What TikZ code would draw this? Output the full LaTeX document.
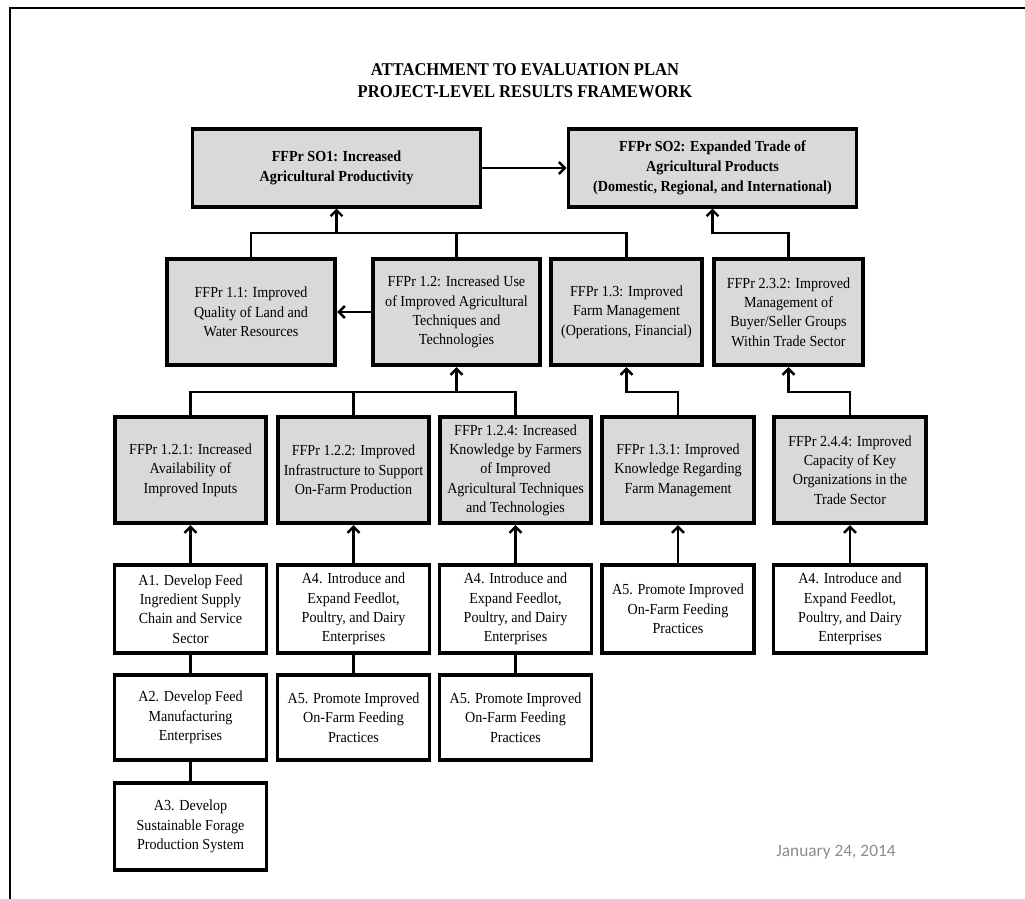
\documentclass[tikz,border=0pt]{standalone}
\usepackage{fontspec}
\setmainfont{Liberation Serif}[FakeStretch=0.92]
\newfontfamily\datefont{Carlito}
\usetikzlibrary{arrows.meta}
\definecolor{boxgray}{HTML}{D9D9D9}
\definecolor{dategray}{HTML}{8C8C8C}
\begin{document}
\begin{tikzpicture}[x=0.75pt, y=-0.75pt,
    >={Straight Barb[length=4.5pt,width=9pt]},
    link/.style={line width=1.8pt},
    goalbox/.style={draw, line width=2.8pt, fill=boxgray, align=center, inner sep=0pt,
        font=\fontsize{11.5}{15}\selectfont\bfseries, minimum width=216pt, minimum height=58pt},
    resultbox/.style={draw, line width=2.8pt, fill=boxgray, align=center, inner sep=0pt,
        font=\fontsize{11.5}{14.5}\selectfont, minimum height=80pt},
    actbox/.style={draw, line width=2.8pt, fill=white, align=center, inner sep=0pt,
        font=\fontsize{11.5}{14.5}\selectfont, minimum width=114pt}]
    \useasboundingbox (0, 0) rectangle (1025, 899);
    % page frame
    \draw[line width=1.5pt] (1025, 8) -- (10, 8) -- (10, 899);
    % title
    \node[font=\fontsize{13.5}{16.5}\selectfont\bfseries, align=center] (title) at (525, 81)
        {ATTACHMENT TO EVALUATION PLAN\\PROJECT-LEVEL RESULTS FRAMEWORK};
    % strategic objectives
    \node[goalbox] (so1) at (336.5, 168) {FFPr SO1: Increased\\Agricultural Productivity};
    \node[goalbox] (so2) at (712.5, 168) {FFPr SO2: Expanded Trade of\\Agricultural Products\\(Domestic, Regional, and International)};
    % intermediate results
    \node[resultbox, minimum width=126.5pt] (r11) at (251, 312) {FFPr 1.1: Improved\\Quality of Land and\\Water Resources};
    \node[resultbox, minimum width=125.75pt] (r12) at (456.5, 312) {FFPr 1.2: Increased Use\\of Improved Agricultural\\Techniques and\\Technologies};
    \node[resultbox, minimum width=113.75pt] (r13) at (626.5, 312) {FFPr 1.3: Improved\\Farm Management\\(Operations, Financial)};
    \node[resultbox, minimum width=112.25pt] (r232) at (788.5, 312) {FFPr 2.3.2: Improved\\Management of\\Buyer/Seller Groups\\Within Trade Sector};
    % sub-intermediate results
    \node[resultbox, minimum width=113.75pt] (r121) at (190.5, 470) {FFPr 1.2.1: Increased\\Availability of\\Improved Inputs};
    \node[resultbox, minimum width=113.75pt] (r122) at (353.5, 470) {FFPr 1.2.2: Improved\\Infrastructure to Support\\On-Farm Production};
    \node[resultbox, minimum width=113.75pt] (r124) at (515.5, 470) {FFPr 1.2.4: Increased\\Knowledge by Farmers\\of Improved\\Agricultural Techniques\\and Technologies};
    \node[resultbox, minimum width=113.75pt] (r131) at (678, 470) {FFPr 1.3.1: Improved\\Knowledge Regarding\\Farm Management};
    \node[resultbox, minimum width=114.5pt] (r244) at (850, 470) {FFPr 2.4.4: Improved\\Capacity of Key\\Organizations in the\\Trade Sector};
    % activities
    \node[actbox, minimum height=66.5pt] (a1) at (190.5, 609) {A1. Develop Feed\\Ingredient Supply\\Chain and Service\\Sector};
    \node[actbox, minimum height=66.5pt] (a4b) at (353.5, 609) {A4. Introduce and\\Expand Feedlot,\\Poultry, and Dairy\\Enterprises};
    \node[actbox, minimum height=66.5pt] (a4c) at (515.5, 609) {A4. Introduce and\\Expand Feedlot,\\Poultry, and Dairy\\Enterprises};
    \node[actbox, minimum height=66.5pt] (a5d) at (678, 609) {A5. Promote Improved\\On-Farm Feeding\\Practices};
    \node[actbox, minimum height=66.5pt, minimum width=114.75pt] (a4e) at (850, 609) {A4. Introduce and\\Expand Feedlot,\\Poultry, and Dairy\\Enterprises};
    \node[actbox, minimum height=64.25pt] (a2) at (190.5, 717.5) {A2. Develop Feed\\Manufacturing\\Enterprises};
    \node[actbox, minimum height=64.25pt] (a5b) at (353.5, 717.5) {A5. Promote Improved\\On-Farm Feeding\\Practices};
    \node[actbox, minimum height=64.25pt] (a5c) at (515.5, 717.5) {A5. Promote Improved\\On-Farm Feeding\\Practices};
    \node[actbox, minimum height=65.75pt] (a3) at (190.5, 826.5) {A3. Develop\\Sustainable Forage\\Production System};
    % date
    \node[font=\datefont\fontsize{13}{15}\selectfont, text=dategray] (date) at (836, 852) {January 24, 2014};
    % junctions
    \coordinate (j1) at (336.5, 233);
    \coordinate (j2) at (712.5, 233);
    \coordinate (j3) at (456.5, 392);
    \coordinate (j4) at (626.5, 392);
    \coordinate (j5) at (788.5, 392);
    % links between objectives and results
    \draw[link,->] (so1) -- (so2);
    \draw[link] (r11.north) |- (j1) -| (r13.north);
    \draw[link] (r12.north) -- (r12.north |- j1);
    \draw[link,->] (j1) -- (so1.south);
    \draw[link,->] (r232.north) |- (j2) -- (so2.south);
    \draw[link,->] (r12) -- (r11);
    \draw[link] (r121.north) |- (j3) -| (r124.north);
    \draw[link] (r122.north) -- (r122.north |- j3);
    \draw[link,->] (j3) -- (r12.south);
    \draw[link,->] (r131.north) |- (j4) -- (r13.south);
    \draw[link,->] (r244.north) |- (j5) -- (r232.south);
    % links from activities
    \foreach \act/\res in {a1/r121, a4b/r122, a4c/r124, a5d/r131, a4e/r244}
        \draw[link,->] (\act.north) -- (\res.south);
    \foreach \upper/\lower in {a1/a2, a4b/a5b, a4c/a5c, a2/a3}
        \draw[link] (\upper.south) -- (\lower.north);
\end{tikzpicture}
\end{document}
